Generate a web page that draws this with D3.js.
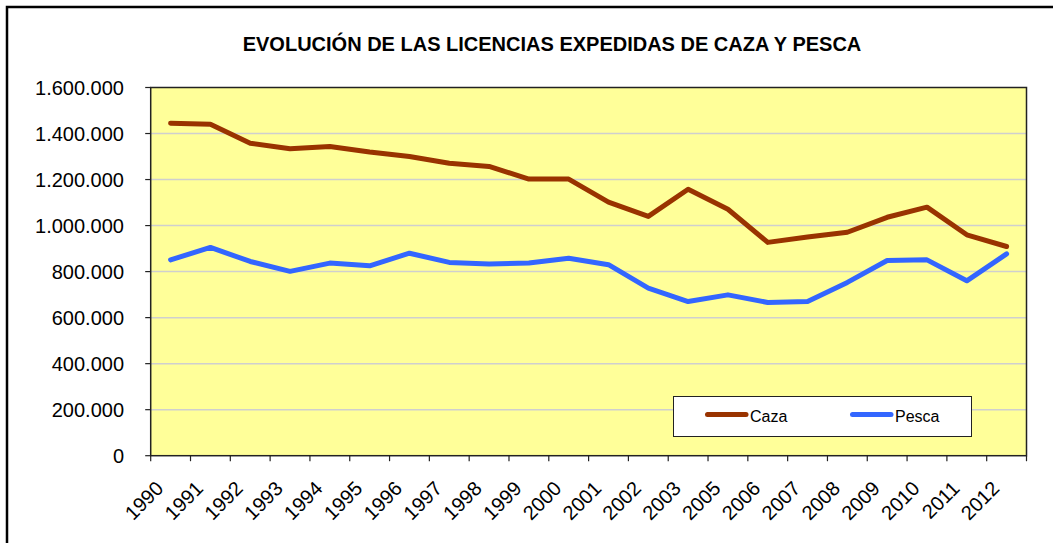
<!DOCTYPE html>
<html>
<head>
<meta charset="utf-8">
<script src="https://cdn.jsdelivr.net/npm/d3@7"></script>
<style>
  html, body { margin: 0; padding: 0; background: #fff; }
  svg { display: block; font-family: "Liberation Sans", Arial, sans-serif; }
</style>
</head>
<body>
<svg id="chart" width="1053" height="543"></svg>
<script>
const title = "EVOLUCIÓN DE LAS LICENCIAS EXPEDIDAS DE CAZA Y PESCA";
const years = ["1990","1991","1992","1993","1994","1995","1996","1997","1998","1999","2000",
               "2001","2002","2003","2005","2006","2007","2008","2009","2010","2011","2012"];
const caza  = [1445000,1440000,1358000,1334000,1344000,1320000,1300000,1271000,1257000,1202000,1202000,
               1102000,1040000,1158000,1071000,927000,950000,971000,1036000,1080000,960000,909000];
const pesca = [851000,905000,844000,801000,837000,825000,880000,840000,833000,837000,858000,
               830000,728000,670000,699000,666000,670000,753000,848000,851000,760000,877000];
const yTicks = [0,200000,400000,600000,800000,1000000,1200000,1400000,1600000];
const seriesNames = ["Caza","Pesca"];
const seriesColors = ["#993300","#3366FF"];

const svg = d3.select("#chart");
const plot = {left: 150.7, right: 1026.5, top: 87.5, bottom: 455.7};

const fmt = v => v === 0 ? "0" : d3.format(",")(v).replace(/,/g, ".");

const x = d3.scaleBand().domain(years).range([plot.left, plot.right]).padding(0);
const y = d3.scaleLinear().domain([0, 1600000]).range([plot.bottom, plot.top]);
const bw = x.bandwidth();
const cx = d => x(d) + bw / 2;

// outer frame
svg.append("rect").attr("x", 7).attr("y", 7).attr("width", 1070).attr("height", 570)
  .attr("fill", "none").attr("stroke", "#000").attr("stroke-width", 2.5);

// title
svg.append("text").attr("x", 552).attr("y", 51).attr("text-anchor", "middle")
  .attr("font-size", 20).attr("font-weight", "bold").attr("fill", "#000").text(title);

// plot background
svg.append("rect").attr("x", plot.left).attr("y", plot.top)
  .attr("width", plot.right - plot.left).attr("height", plot.bottom - plot.top)
  .attr("fill", "#FFFF99");

// gridlines
svg.append("g").selectAll("line").data(yTicks.filter(t => t > 0 && t < 1600000)).join("line")
  .attr("x1", plot.left).attr("x2", plot.right)
  .attr("y1", d => y(d)).attr("y2", d => y(d))
  .attr("stroke", "#cfcfcf").attr("stroke-width", 1.5);

// plot border
svg.append("rect").attr("x", plot.left).attr("y", plot.top)
  .attr("width", plot.right - plot.left).attr("height", plot.bottom - plot.top)
  .attr("fill", "none").attr("stroke", "#222").attr("stroke-width", 1.5);

// y axis ticks & labels
const yg = svg.append("g");
yg.selectAll("line").data(yTicks).join("line")
  .attr("x1", plot.left - 5.5).attr("x2", plot.left)
  .attr("y1", d => y(d)).attr("y2", d => y(d))
  .attr("stroke", "#222").attr("stroke-width", 1.2);
yg.selectAll("text").data(yTicks).join("text")
  .attr("x", 124).attr("y", d => y(d) + 7).attr("text-anchor", "end")
  .attr("font-size", 20).attr("fill", "#000").text(d => fmt(d));

// x axis ticks & labels
const bounds = years.map(d => x(d)).concat([x(years[years.length - 1]) + bw]);
const xg = svg.append("g");
xg.selectAll("line").data(bounds).join("line")
  .attr("x1", d => d).attr("x2", d => d)
  .attr("y1", plot.bottom).attr("y2", plot.bottom + 5.5)
  .attr("stroke", "#222").attr("stroke-width", 1.2);
xg.selectAll("text").data(years).join("text")
  .attr("transform", d => `translate(${cx(d) - 6},${plot.bottom + 34}) rotate(-45)`)
  .attr("text-anchor", "end").attr("font-size", 20).attr("fill", "#000").text(d => d);

// lines
const line = d3.line().x((v, i) => cx(years[i])).y(v => y(v));
[caza, pesca].forEach((s, i) => {
  svg.append("path").attr("d", line(s)).attr("fill", "none")
    .attr("stroke", seriesColors[i]).attr("stroke-width", 5)
    .attr("stroke-linejoin", "round").attr("stroke-linecap", "round");
});

// legend
const lg = svg.append("g");
lg.append("rect").attr("x", 673.5).attr("y", 396.5).attr("width", 298).attr("height", 40)
  .attr("fill", "#fff").attr("stroke", "#222").attr("stroke-width", 1);
const legX = [707.5, 852.5];
seriesNames.forEach((n, i) => {
  lg.append("line").attr("x1", legX[i]).attr("x2", legX[i] + 38.5)
    .attr("y1", 414.5).attr("y2", 414.5)
    .attr("stroke", seriesColors[i]).attr("stroke-width", 5).attr("stroke-linecap", "round");
  lg.append("text").attr("x", legX[i] + 42.5).attr("y", 421.7)
    .attr("font-size", 16).attr("fill", "#000").text(n);
});
</script>
</body>
</html>
